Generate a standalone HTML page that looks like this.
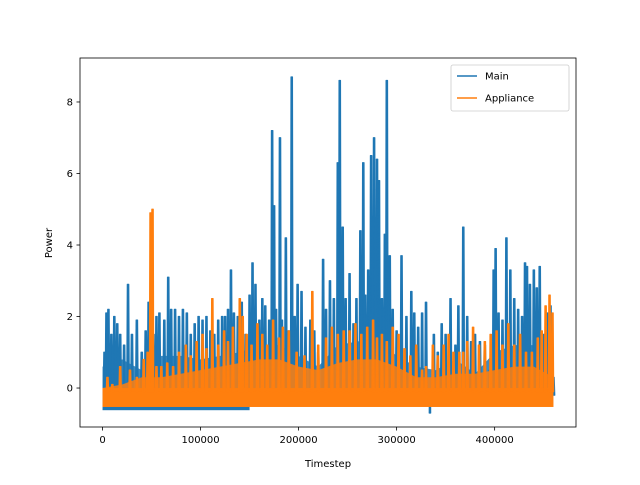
<!DOCTYPE html>
<html><head><meta charset="utf-8"><style>
body{margin:0;background:#fff;}
svg text{font-family:"DejaVu Sans","Liberation Sans",sans-serif;font-size:10px;fill:#000;}
</style></head><body>
<svg id="chart" width="640" height="480" xmlns="http://www.w3.org/2000/svg">
<rect width="640" height="480" fill="#fff"/>
<defs><clipPath id="clip"><rect x="80" y="58" width="496" height="369"/></clipPath></defs>
<g id="plot" clip-path="url(#clip)"></g>
<g id="axes"></g>
</svg>
<script>
const mainT=[2,4,6,9,12,15,18,22,26,30,35,40,44,47,52,55,58,63,67,70,74,78,82,86,90,94,98,102,106,110,114,118,122,125,128,131,134,138,142,146,150,153,156,160,163,166,170,173,175,177,181,183,187,190,193,196,199,203,207,212,216,220,225,228,232,236,240,242,245,248,252,256,259,263,266,268,271,274,277,280,282,285,288,290,293,296,300,305,310,315,318,322,326,330,338,342,346,350,355,360,363,368,372,376,380,385,390,395,399,401,404,408,412,416,420,424,428,431,433,436,440,443,446,450,454,457,460];
const mainV=[1.0,2.1,2.2,1.5,2.0,1.8,1.5,1.2,2.9,1.5,1.9,1.0,1.6,2.4,1.5,2.0,2.1,1.9,3.1,2.2,2.2,2.0,2.2,2.1,1.5,1.8,2.0,1.9,2.0,1.6,1.5,1.9,2.0,2.0,2.2,3.3,2.1,2.0,2.4,1.5,2.6,3.5,2.9,1.9,2.5,2.3,1.9,7.2,5.1,2.2,7.0,1.9,4.2,1.6,8.7,2.0,2.9,2.7,1.7,1.9,1.6,1.0,3.6,2.2,3.0,2.5,6.3,8.6,4.5,2.5,3.2,1.8,2.5,4.4,6.3,2.6,3.3,6.5,7.0,6.4,5.8,2.5,4.3,8.6,3.7,2.2,1.6,3.7,2.0,2.7,2.1,1.7,2.1,2.4,1.5,1.0,1.8,1.5,2.5,1.2,2.3,4.5,2.0,1.3,1.5,1.3,1.2,0.5,3.3,3.9,2.1,1.9,4.2,3.3,2.5,2.2,2.0,3.5,3.4,2.9,3.3,2.8,3.4,1.5,2.1,2.3,0.3];
const appT=[5,10,18,28,35,42,46,49,51,55,60,66,72,78,85,90,96,102,106,112,118,124,128,133,140,143,147,152,158,163,168,174,180,184,190,198,206,214,220,228,234,240,246,252,258,264,270,276,280,285,290,296,302,308,314,320,326,330,337,342,348,353,358,364,368,372,378,384,390,396,402,408,414,420,426,432,438,444,448,452,456,459];
const appV=[0.3,0.1,0.6,0.5,0.3,0.8,1.0,4.9,5.0,0.6,0.6,0.7,0.6,1.0,1.2,0.9,1.3,1.5,1.1,2.5,1.2,1.6,1.3,1.7,2.5,2.0,1.5,1.2,1.8,1.5,1.2,1.9,1.4,1.7,1.6,1.0,0.9,2.7,1.2,1.4,1.7,1.5,1.6,1.6,1.8,1.5,1.7,1.9,1.4,1.5,1.3,1.7,1.5,1.1,0.9,1.2,0.5,0.6,1.2,0.9,1.2,1.5,1.0,1.0,1.0,1.3,1.7,1.2,1.3,1.5,1.6,1.2,1.8,1.2,1.5,1.0,1.0,1.4,1.6,2.3,2.6,2.1];
const envT=[0,20,40,60,80,100,120,140,160,180,200,220,240,260,280,300,320,340,360,380,400,420,440,460];
const mainEnv=[0.6,0.8,0.5,0.9,0.9,0.8,0.9,1.0,1.2,1.2,0.9,0.6,1.2,1.3,1.4,0.9,0.6,0.5,0.8,0.4,1.0,1.2,1.2,0.5];
const appEnv=[0.0,0.1,0.3,0.3,0.4,0.5,0.6,0.7,0.8,0.8,0.6,0.5,0.7,0.8,0.8,0.6,0.3,0.3,0.4,0.4,0.5,0.6,0.6,0.3];
const mainDipT=[334];const mainDipV=[-0.7];
const xTicks=[0,100000,200000,300000,400000];
const yTicks=[0,2,4,6,8];
const X0=80,X1=576,Y0=58,Y1=427,XMIN=-23000,XMAX=483000,YMIN=-1.09,YMAX=9.23;
const sx=v=>X0+(v-XMIN)/(XMAX-XMIN)*(X1-X0);
const sy=v=>Y1-(v-YMIN)/(YMAX-YMIN)*(Y1-Y0);
const NS="http://www.w3.org/2000/svg";
const plot=document.getElementById('plot'),axes=document.getElementById('axes');
function mk(tag,attrs,parent){const e=document.createElementNS(NS,tag);for(const k in attrs)e.setAttribute(k,attrs[k]);parent.appendChild(e);return e;}
const blue='#1f77b4',orange='#ff7f0e';
function envelope(vals,color,base,name){
  let d=`M${sx(envT[0]*1000)},${sy(base)}`;
  envT.forEach((t,i)=>{d+=`L${sx(t*1000)},${sy(vals[i])}`;});
  d+=`L${sx(envT[envT.length-1]*1000)},${sy(base)}Z`;
  const p=mk('path',{d:d,fill:color,opacity:0.85},plot);
  
  
}
let r=mk('rect',{x:sx(0),y:sy(-0.1),width:sx(150000)-sx(0),height:sy(-0.62)-sy(-0.1),fill:blue},plot);


envelope(mainEnv,blue,-0.2,'main-dense-fill');
function spikes(T,V,color,base,name,w){
  let d='';
  T.forEach((t,i)=>{const x=sx(t*1000);d+=`M${x-w},${sy(base)}L${x-0.7},${sy(V[i])}L${x+0.7},${sy(V[i])}L${x+w},${sy(base)}Z`;});
  const p=mk('path',{d:d,fill:color,stroke:color,'stroke-width':1.2,'stroke-linejoin':'round'},plot);
  
  
}
spikes(mainT,mainV,blue,-0.2,'main-series',1.3);
spikes(mainDipT,mainDipV,blue,-0.3,'main-dip',0.6);
r=mk('rect',{x:sx(0),y:sy(0),width:sx(460000)-sx(0),height:sy(-0.53)-sy(0),fill:orange},plot);


envelope(appEnv,orange,-0.1,'appliance-dense-fill');
spikes(appT,appV,orange,-0.1,'appliance-series',1.2);
const fr=mk('rect',{x:X0,y:Y0,width:X1-X0,height:Y1-Y0,fill:'none',stroke:'#000','stroke-width':0.8},axes);


xTicks.forEach(v=>{const x=sx(v);mk('line',{x1:x,x2:x,y1:Y1,y2:Y1+3.5,stroke:'#000','stroke-width':0.8},axes);
 const t=mk('text',{x:x,y:Y1+16,'text-anchor':'middle'},axes);t.textContent=v;
 
 });
yTicks.forEach(v=>{const y=sy(v);mk('line',{x1:X0-3.5,x2:X0,y1:y,y2:y,stroke:'#000','stroke-width':0.8},axes);
 const t=mk('text',{x:X0-7,y:y+3.5,'text-anchor':'end'},axes);t.textContent=v;
 
 });
let t=mk('text',{x:328,y:467,'text-anchor':'middle'},axes);t.textContent='Timestep';


t=mk('text',{x:52,y:243,'text-anchor':'middle',transform:'rotate(-90 52 243)'},axes);t.textContent='Power';


const lg=mk('g',{},axes);


mk('rect',{x:451,y:65,width:118,height:46,rx:2,fill:'#fff','fill-opacity':0.8,stroke:'#ccc','stroke-width':0.8},lg);
[['Main',blue,76],['Appliance',orange,98]].forEach(([n,c,y])=>{
 const g=mk('g',{},lg);
 
 
 mk('line',{x1:457,x2:477,y1:y,y2:y,stroke:c,'stroke-width':1.5},g);
 const tt=mk('text',{x:485,y:y+3.5},g);tt.textContent=n;});
</script>
</body></html>
